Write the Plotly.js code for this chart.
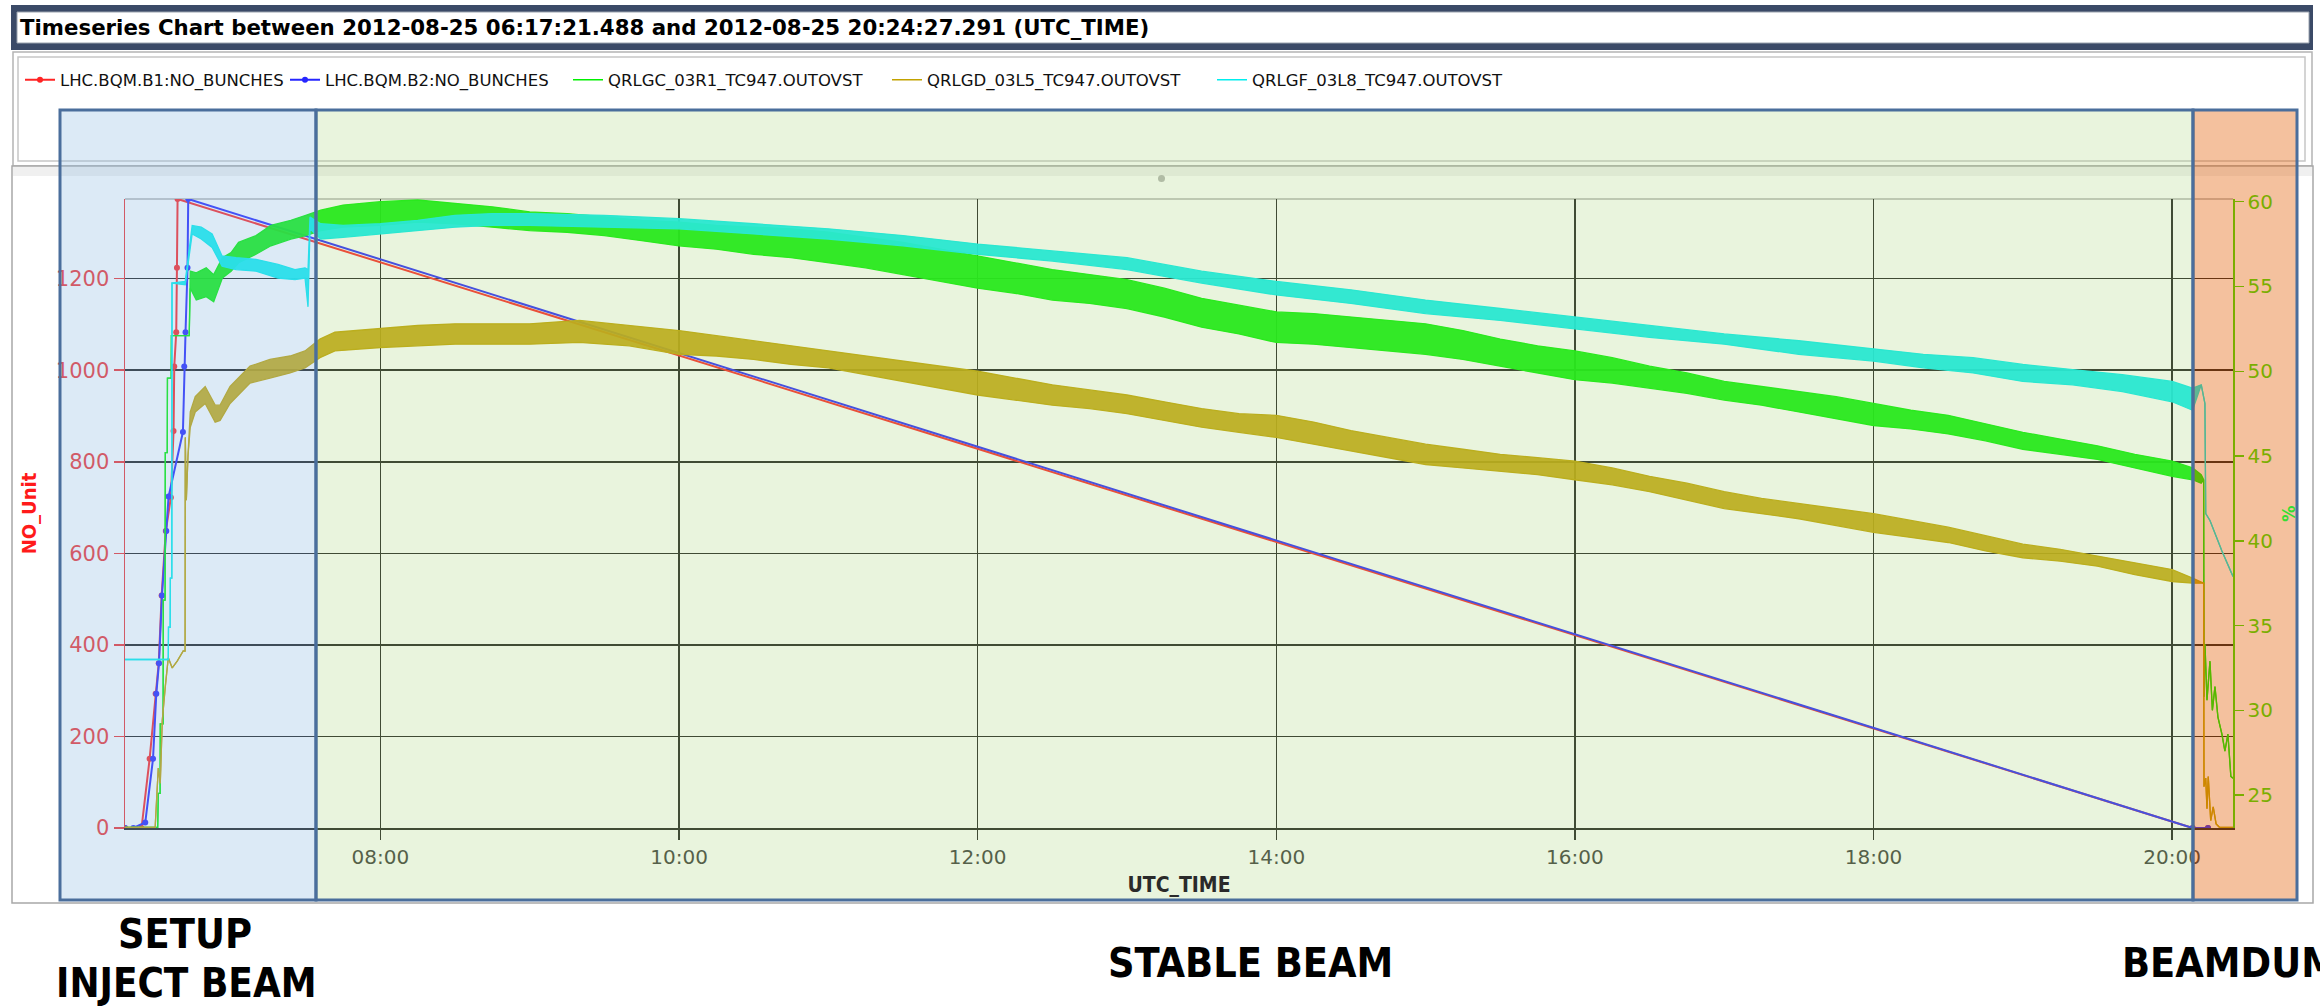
<!DOCTYPE html>
<html>
<head>
<meta charset="utf-8">
<script src="https://cdn.plot.ly/plotly-3.0.1.min.js"></script>
<style>
  html, body { margin: 0; padding: 0; background: #ffffff; overflow: hidden; }
  #chart { width: 2320px; height: 1007px; }
</style>
</head>
<body>
<div id="chart"></div>
<script>
// ---- Fill data, 2012-08-25 (UTC) ----
const DAY = '2012-08-25 ';

// Bunch counters (left axis, NO_Unit)
const b1Time = ['06:17:21','06:24:00','06:27:15','06:29:40','06:30:55','06:32:05','06:33:45','06:35:48',
                '06:36:52','06:37:09','06:37:57','06:38:14','06:38:29','20:08:12','20:14:24'];
const b1Bunches = [0, 0, 151, 293, 360, 508, 649, 722, 867, 1008, 1083, 1224, 1374, 0, 0];

const b2Time = ['06:17:21','06:20:43','06:25:30','06:28:37','06:29:56','06:31:01','06:32:13','06:33:57',
                '06:34:52','06:40:38','06:41:10','06:41:41','06:42:29','06:42:46','20:08:12','20:14:24'];
const b2Bunches = [0, 0, 12, 151, 293, 360, 508, 649, 724, 865, 1008, 1083, 1224, 1374, 0, 0];

// Valve outputs (right axis, %): noisy signals stored as low / high envelope per timestamp
const gcTime = ['06:17:21','06:30:30','06:30:44','06:31:28','06:31:32','06:32:40','06:32:45','06:33:28','06:33:33',
  '06:34:20','06:34:25','06:35:55','06:36:00','06:43:10','06:43:35','06:46:00','06:50:00','06:53:00','06:56:30',
  '07:00:00','07:03:00','07:10:00','07:16:00','07:24:00','07:30:00','07:36:00','07:45:00','08:00:00','08:15:00',
  '08:30:00','08:45:00','09:00:00','09:15:00','09:30:00','09:45:00','10:00:00','10:15:00','10:30:00','10:45:00',
  '11:00:00','11:15:00','11:30:00','11:45:00','12:00:00','12:15:00','12:30:00','12:45:00','13:00:00','13:15:00',
  '13:30:00','13:45:00','14:00:00','14:15:00','14:30:00','14:45:00','15:00:00','15:15:00','15:30:00','15:45:00',
  '16:00:00','16:15:00','16:30:00','16:45:00','17:00:00','17:15:00','17:30:00','17:45:00','18:00:00','18:15:00',
  '18:30:00','18:45:00','19:00:00','19:15:00','19:30:00','19:45:00','20:00:00','20:08:12','20:11:40','20:12:40',
  '20:12:48','20:13:12','20:14:00','20:15:12','20:16:10','20:17:12','20:18:24','20:20:00','20:21:12','20:22:24',
  '20:23:36','20:24:27'];
const gcLow = [23.1,23.1,25.1,25.1,29.2,29.2,36.5,36.5,45.2,
  45.2,49.6,49.6,52.1,52.1,54.9,54.2,54.4,54.1,55.5,
  55.9,56.4,56.9,57.4,57.8,58.0,58.3,58.5,58.6,58.8,
  58.7,58.5,58.3,58.2,58.0,57.7,57.4,57.2,56.9,56.7,
  56.4,56.1,55.7,55.3,54.9,54.6,54.2,54.0,53.7,53.2,
  52.6,52.2,51.7,51.6,51.4,51.2,51.0,50.7,50.3,49.9,
  49.5,49.3,49.0,48.7,48.3,48.0,47.6,47.2,46.8,46.6,
  46.3,45.9,45.4,45.1,44.8,44.3,43.8,43.6,43.4,43.6,
  30.8,33.9,30.6,32.9,30.0,31.4,29.6,28.6,27.6,28.6,
  26.1,26.0];
const gcHigh = [23.1,23.1,25.1,25.1,29.2,29.2,36.5,36.5,45.2,
  45.2,49.6,49.6,52.1,52.1,55.9,55.8,56.1,55.7,56.7,
  57.0,57.6,58.0,58.6,58.9,59.2,59.5,59.8,60.0,60.1,
  59.9,59.7,59.4,59.3,59.1,58.9,58.8,58.6,58.5,58.4,
  58.2,57.9,57.6,57.2,56.8,56.4,56.0,55.7,55.4,54.9,
  54.3,53.9,53.5,53.4,53.2,53.0,52.8,52.4,51.9,51.5,
  51.2,50.8,50.3,49.9,49.4,49.1,48.8,48.5,48.1,47.7,
  47.4,46.9,46.4,46.0,45.6,45.1,44.7,44.3,43.9,43.6,
  30.8,33.9,30.6,32.9,30.0,31.4,29.6,28.6,27.6,28.6,
  26.1,26.0];

const gdTime = ['06:17:21','06:29:30','06:29:35','06:30:44','06:31:32','06:32:20','06:33:33','06:34:45','06:36:20',
  '06:38:20','06:40:45','06:41:30','06:41:35','06:42:00','06:42:40','06:43:35','06:45:35','06:49:35','06:53:35',
  '06:55:35','06:59:35','07:07:36','07:15:36','07:23:42','07:29:42','07:35:42','07:41:42','08:00:00','08:15:00',
  '08:30:00','08:45:00','09:00:00','09:20:00','09:40:00','10:00:00','10:15:00','10:30:00','10:45:00','11:00:00',
  '11:15:00','11:30:00','11:45:00','12:00:00','12:15:00','12:30:00','12:45:00','13:00:00','13:15:00','13:30:00',
  '13:45:00','14:00:00','14:15:00','14:30:00','14:45:00','15:00:00','15:15:00','15:30:00','15:45:00','16:00:00',
  '16:15:00','16:30:00','16:45:00','17:00:00','17:15:00','17:30:00','17:45:00','18:00:00','18:15:00','18:30:00',
  '18:45:00','19:00:00','19:15:00','19:30:00','19:45:00','20:00:00','20:08:12','20:12:40','20:12:48','20:13:30',
  '20:14:00','20:14:30','20:15:30','20:16:30','20:17:40','20:19:00','20:24:27'];
const gdLow = [23.1,23.1,23.4,26.6,25.7,29.4,31.4,33.1,32.5,
  32.9,33.5,33.5,46.1,42.4,45.0,46.7,47.6,48.1,47.0,
  47.1,48.1,49.3,49.6,49.9,50.2,50.8,51.2,51.4,51.5,
  51.6,51.6,51.6,51.7,51.5,51.0,50.9,50.7,50.4,50.2,
  49.8,49.4,49.0,48.6,48.3,48.0,47.8,47.5,47.1,46.7,
  46.4,46.1,45.7,45.3,44.9,44.5,44.3,44.1,43.9,43.6,
  43.3,42.9,42.4,41.9,41.6,41.3,40.9,40.5,40.2,39.9,
  39.4,39.0,38.8,38.5,38.0,37.6,37.5,37.5,25.5,26.0,
  24.2,26.1,23.5,24.3,23.3,23.1,23.1];
const gdHigh = [23.1,23.1,23.4,26.6,25.7,29.4,31.4,33.1,32.5,
  32.9,33.5,33.5,46.1,42.4,45.0,47.6,48.5,49.1,48.0,
  48.0,49.1,50.3,50.7,50.9,51.2,51.9,52.3,52.5,52.7,
  52.8,52.8,52.8,53.0,52.7,52.4,52.1,51.8,51.5,51.2,
  50.9,50.6,50.3,50.0,49.6,49.2,48.9,48.6,48.2,47.8,
  47.5,47.4,47.0,46.5,46.1,45.7,45.4,45.1,44.9,44.7,
  44.3,43.8,43.4,42.9,42.5,42.2,41.9,41.6,41.2,40.8,
  40.3,39.8,39.5,39.1,38.7,38.3,37.8,37.5,25.5,26.0,
  24.2,26.1,23.5,24.3,23.3,23.1,23.1];

const gfTime = ['06:17:21','06:34:45','06:34:50','06:35:30','06:35:35','06:36:10','06:36:15','06:41:34','06:44:21',
  '06:48:00','06:52:22','06:56:22','07:02:00','07:10:00','07:18:51','07:25:40','07:29:42','07:30:54','07:31:42',
  '07:36:00','07:45:00','08:00:00','08:15:00','08:30:00','08:45:00','09:00:00','09:30:00','10:00:00','10:30:00',
  '11:00:00','11:30:00','12:00:00','12:30:00','13:00:00','13:30:00','14:00:00','14:30:00','15:00:00','15:30:00',
  '16:00:00','16:30:00','17:00:00','17:30:00','18:00:00','18:20:00','18:40:00','19:00:00','19:20:00','19:40:00',
  '20:00:00','20:08:12','20:11:42','20:13:10','20:13:30','20:15:12','20:20:00','20:24:27'];
const gfLow = [33.0,33.0,34.9,34.9,37.8,37.8,55.2,55.1,58.1,
  57.8,57.3,56.2,56.0,55.9,55.5,55.4,55.5,53.8,58.4,
  57.8,57.9,58.1,58.3,58.5,58.6,58.6,58.5,58.4,58.1,
  57.8,57.4,56.9,56.5,56.0,55.2,54.5,54.0,53.4,53.0,
  52.5,52.0,51.6,51.0,50.6,50.2,49.9,49.4,49.2,48.8,
  48.2,47.7,49.2,48.1,41.6,41.2,39.4,37.9];
const gfHigh = [33.0,33.0,34.9,34.9,37.8,37.8,55.2,55.3,58.6,
  58.5,58.1,56.8,56.7,56.6,56.3,56.0,56.1,56.0,59.1,
  58.7,58.6,58.7,58.9,59.2,59.3,59.3,59.2,59.0,58.7,
  58.4,58.0,57.5,57.1,56.7,55.9,55.3,54.8,54.2,53.7,
  53.2,52.7,52.2,51.8,51.3,51.0,50.8,50.4,50.1,49.8,
  49.4,49.0,49.2,48.1,41.6,41.2,39.4,37.9];

const seriesNames = ['LHC.BQM.B1:NO_BUNCHES', 'LHC.BQM.B2:NO_BUNCHES',
  'QRLGC_03R1_TC947.OUTOVST', 'QRLGD_03L5_TC947.OUTOVST', 'QRLGF_03L8_TC947.OUTOVST'];
const tickHours = ['08:00','10:00','12:00','14:00','16:00','18:00','20:00'];
const phaseLabels = ['SETUP', 'INJECT BEAM', 'STABLE BEAM', 'BEAMDUMP'];

// ---- Page geometry (pixels) ----
const W = 2320, H = 1007;
const PL = 125, PR = 2233, PT = 199, PB = 828;   // plot area
const px = x => (x - PL) / (PR - PL);
const py = y => (PB - y) / (PB - PT);
const FONT_C = '"DejaVu Sans Condensed", "DejaVu Sans", sans-serif';
const FONT_R = '"DejaVu Sans", sans-serif';

const C_RED = '#ff2424', C_BLUE = '#2626ff', C_GREEN = '#00f000', C_GOLD = '#c2a200', C_CYAN = '#00eeee';
const C_LEFT = '#f03232', C_RIGHT = '#3ae000', C_GRID = '#1e1e1e';

const t = arr => arr.map(s => DAY + s);

function band(time, lo, hi, name, color, fillColor, legendId) {
  return [
    { x: t(time), y: lo, name: name, type: 'scatter', mode: 'lines', yaxis: 'y2',
      line: { color: color, width: 1.3 }, legend: legendId, hoverinfo: 'skip' },
    { x: t(time), y: hi, name: name, type: 'scatter', mode: 'lines', yaxis: 'y2',
      line: { color: color, width: 1.3 }, fill: 'tonexty', fillcolor: fillColor,
      showlegend: false, hoverinfo: 'skip' }
  ];
}

const traces = [
  { x: t(b1Time), y: b1Bunches, name: seriesNames[0], type: 'scatter', mode: 'lines+markers',
    line: { color: C_RED, width: 2 }, marker: { color: C_RED, size: 6 }, legend: 'legend' },
  { x: t(b2Time), y: b2Bunches, name: seriesNames[1], type: 'scatter', mode: 'lines+markers',
    line: { color: C_BLUE, width: 2 }, marker: { color: C_BLUE, size: 6 }, legend: 'legend2' },
  ...band(gcTime, gcLow, gcHigh, seriesNames[2], C_GREEN, 'rgba(0,240,0,0.95)', 'legend3'),
  ...band(gdTime, gdLow, gdHigh, seriesNames[3], C_GOLD, 'rgba(194,162,0,0.92)', 'legend4'),
  ...band(gfTime, gfLow, gfHigh, seriesNames[4], C_CYAN, 'rgba(0,238,238,0.95)', 'legend5')
];

function rect(x0, y0, x1, y1, extra) {
  return Object.assign({ type: 'rect', xref: 'paper', yref: 'paper',
    x0: px(x0), x1: px(x1), y0: py(y1), y1: py(y0) }, extra);
}
function hline(x0, x1, y, color, width, layer) {
  return { type: 'line', xref: 'paper', yref: 'paper', x0: px(x0), x1: px(x1), y0: py(y), y1: py(y),
    line: { color: color, width: width }, layer: layer || 'below' };
}

const shapes = [
  // window header with the title field
  rect(11, 5, 2313, 50, { fillcolor: '#3b4a67', line: { width: 0 }, layer: 'below' }),
  rect(17, 12, 2309, 43, { fillcolor: '#ffffff', line: { color: '#9aa2ae', width: 1 }, layer: 'below' }),
  // legend panel (double frame)
  rect(13, 52, 2312, 166, { line: { color: '#b4b4b4', width: 1.5 }, layer: 'below' }),
  rect(18, 57, 2305, 161, { line: { color: '#c6c6c6', width: 1.5 }, layer: 'below' }),
  // chart panel
  rect(13, 166, 2312, 176, { fillcolor: '#f0f0f0', line: { width: 0 }, layer: 'below' }),
  rect(12, 166, 2313, 903, { line: { color: '#a8a8a8', width: 1.5 }, layer: 'below' }),
  { type: 'circle', xref: 'paper', yref: 'paper', x0: px(1158), x1: px(1165), y0: py(182), y1: py(175),
    fillcolor: '#b4b4b4', line: { width: 0 }, layer: 'below' },
  hline(PL, PR, PT, '#b0b0b0', 1.5),
  // run phases
  rect(60, 110, 316, 900, { fillcolor: 'rgba(138,185,225,0.30)', line: { color: '#4a6e9c', width: 3 }, layer: 'above' }),
  rect(316, 110, 2193, 900, { fillcolor: 'rgba(167,211,119,0.25)', line: { color: '#4a6e9c', width: 3 }, layer: 'above' }),
  rect(2193, 110, 2297, 900, { fillcolor: 'rgba(226,92,0,0.38)', line: { color: '#4a6e9c', width: 3 }, layer: 'above' })
];

function bigLabel(text, x, y, anchor, size) {
  return { text: text, xref: 'paper', yref: 'paper', x: px(x), y: py(y), xanchor: anchor || 'center',
    yanchor: 'middle', showarrow: false,
    font: { family: FONT_C, size: size || 41, weight: 700, color: '#000000' } };
}
const annotations = [
  bigLabel(phaseLabels[0], 185, 934),
  bigLabel(phaseLabels[1], 186, 983, 'center', 40),
  bigLabel(phaseLabels[2], 1250, 963),
  bigLabel(phaseLabels[3], 2120, 963, 'left')
];

function legendAt(textStartPx) {
  return { x: px(textStartPx - 40), y: py(80), xanchor: 'left', yanchor: 'middle', orientation: 'h',
    bgcolor: 'rgba(0,0,0,0)', borderwidth: 0, font: { family: FONT_R, size: 16.5, color: '#111111' } };
}

const layout = {
  width: W, height: H,
  margin: { l: PL, r: W - PR, t: PT, b: H - PB, pad: 0 },
  paper_bgcolor: '#ffffff', plot_bgcolor: '#ffffff',
  title: { text: 'Timeseries Chart between 2012-08-25 06:17:21.488 and 2012-08-25 20:24:27.291 (UTC_TIME)',
    x: 20 / W, xref: 'container', xanchor: 'left', y: 1 - 28 / H, yref: 'container', yanchor: 'middle',
    font: { family: FONT_R, size: 21.3, weight: 700, color: '#000000' } },
  xaxis: {
    type: 'date', range: [DAY + '06:17:21.488', DAY + '20:24:27.291'],
    tickvals: t(tickHours), ticktext: tickHours,
    showgrid: true, gridcolor: C_GRID, gridwidth: 1.5, zeroline: false,
    showline: true, linecolor: C_GRID, linewidth: 1.5,
    ticks: 'outside', ticklen: 10, tickcolor: C_GRID, tickwidth: 1.5,
    tickfont: { family: FONT_R, size: 20, color: '#3a3a3a' },
    title: { text: 'UTC_TIME', standoff: 10, font: { family: FONT_C, size: 21, weight: 700, color: '#2a2a2a' } }
  },
  yaxis: {
    range: [0, 1374], tick0: 0, dtick: 200,
    showgrid: true, gridcolor: C_GRID, gridwidth: 1.5, zeroline: false,
    showline: true, linecolor: C_LEFT, linewidth: 1.5,
    ticks: 'outside', ticklen: 10, tickcolor: C_LEFT, tickwidth: 1.5,
    tickfont: { family: FONT_R, size: 21, color: C_LEFT },
    title: { text: 'NO_Unit', standoff: 14, font: { family: FONT_C, size: 20, weight: 700, color: '#ff1a1a' } }
  },
  yaxis2: {
    overlaying: 'y', side: 'right', range: [23.06, 60.16], tick0: 0, dtick: 5,
    showgrid: false, zeroline: false,
    showline: true, linecolor: C_RIGHT, linewidth: 1.5,
    ticks: 'outside', ticklen: 9, tickcolor: C_RIGHT, tickwidth: 1.5,
    tickfont: { family: FONT_R, size: 20, color: C_RIGHT },
    title: { text: '%', standoff: 10, font: { family: FONT_C, size: 18, weight: 700, color: '#33dd33' } }
  },
  legend: legendAt(60),
  legend2: legendAt(325),
  legend3: legendAt(608),
  legend4: legendAt(927),
  legend5: legendAt(1252),
  shapes: shapes,
  annotations: annotations,
  showlegend: true
};

Plotly.newPlot('chart', traces, layout, { staticPlot: true, displayModeBar: false });
</script>
</body>
</html>
